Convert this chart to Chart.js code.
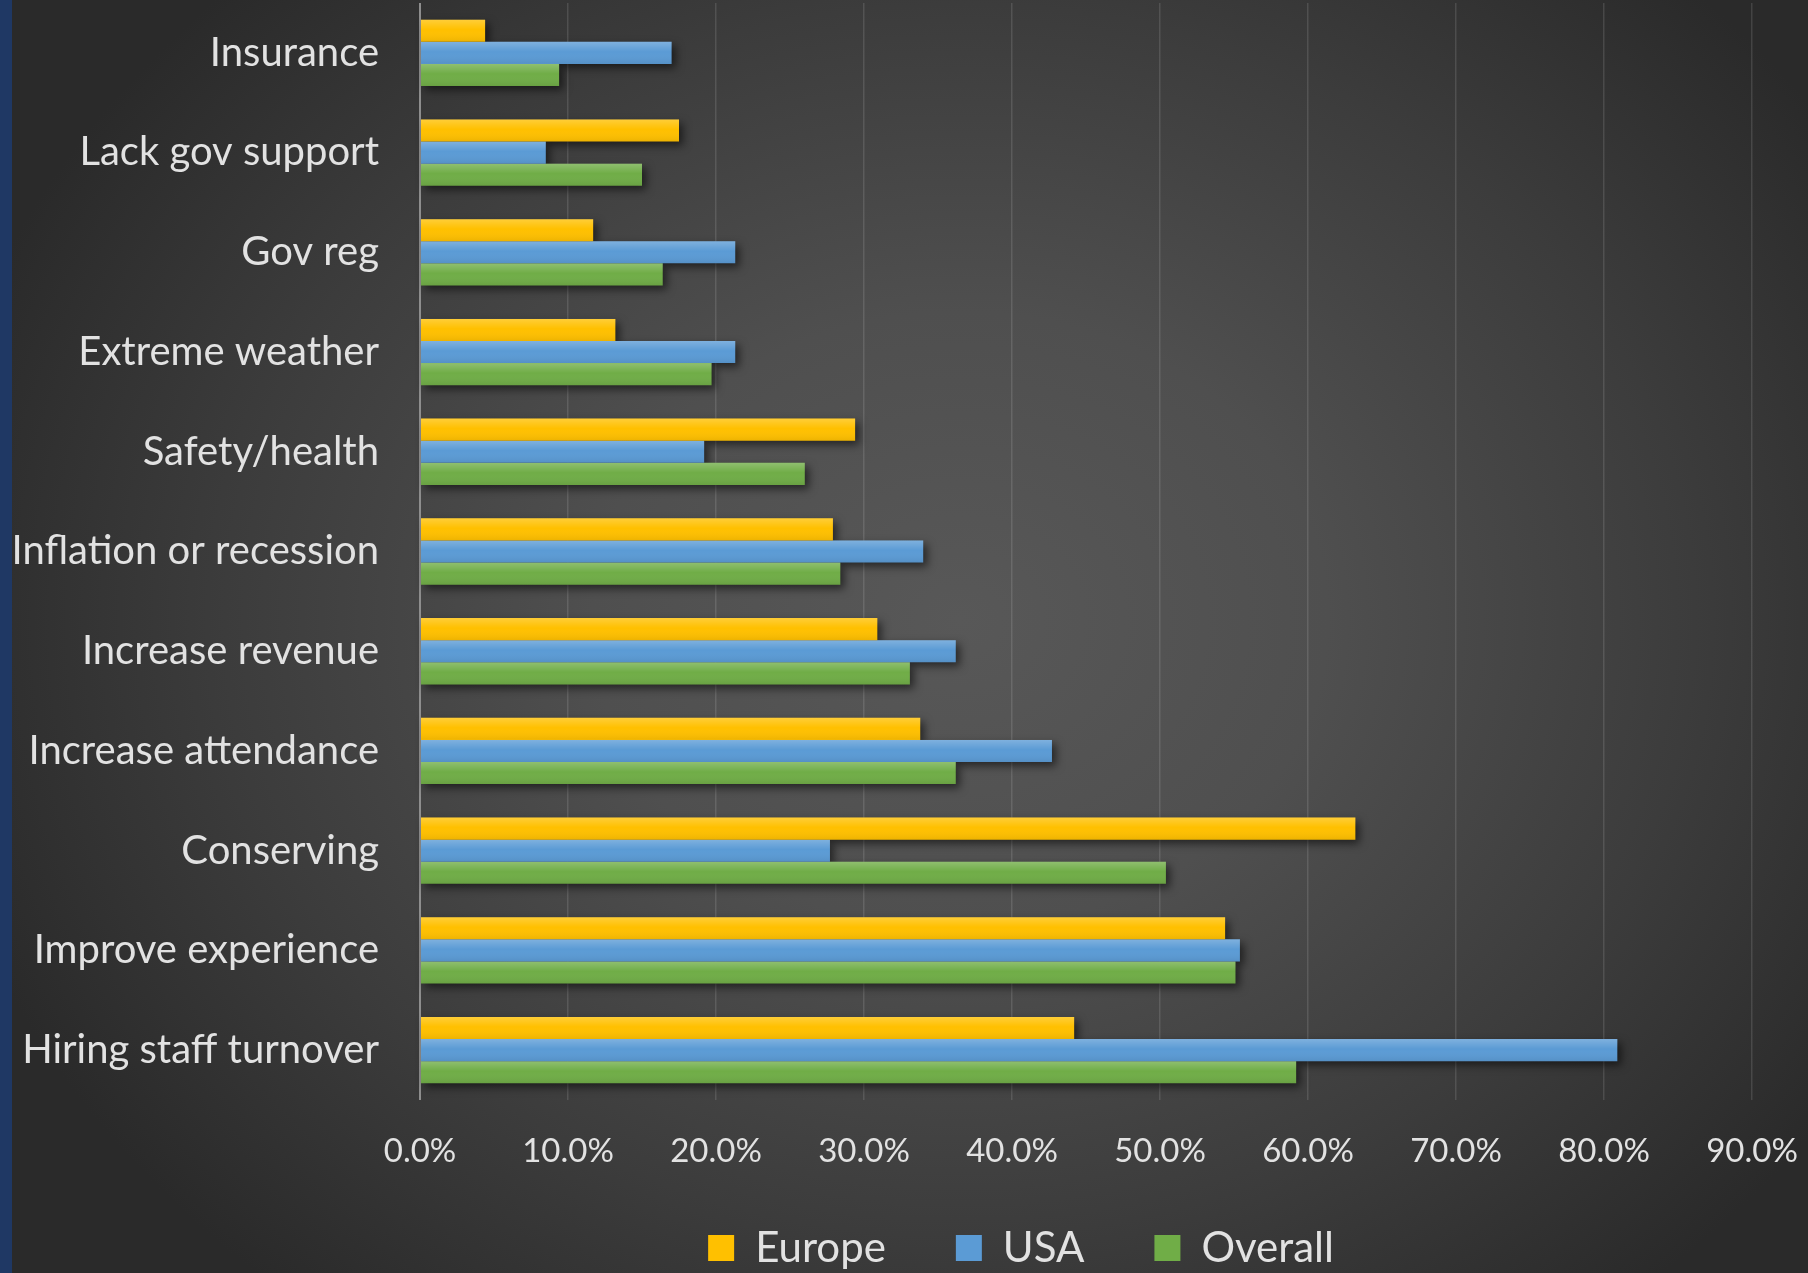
<!DOCTYPE html>
<html>
<head>
<meta charset="utf-8">
<script src="https://cdn.jsdelivr.net/npm/chart.js@4.4.0/dist/chart.umd.min.js"></script>
<style>
  html, body { margin: 0; padding: 0; width: 1808px; height: 1273px; overflow: hidden; }
  body {
    position: relative;
    background: radial-gradient(ellipse 1050px 880px at 960px 620px, #585858 0%, #4f4f4f 35%, #3c3c3c 70%, #2a2a2a 100%);
  }
  #strip { position: absolute; left: 0; top: 0; width: 12px; height: 1273px; background: #1f3864; }
  #c { position: absolute; left: 0; top: 0; }
</style>
</head>
<body>
<div id="strip"></div>
<canvas id="c" width="1808" height="1273"></canvas>
<script>
// survey answers, percent of respondents
const categories = ['Insurance', 'Lack gov support', 'Gov reg', 'Extreme weather', 'Safety/health',
  'Inflation or recession', 'Increase revenue', 'Increase attendance', 'Conserving',
  'Improve experience', 'Hiring staff turnover'];
const europe  = [4.4, 17.5, 11.7, 13.2, 29.4, 27.9, 30.9, 33.8, 63.2, 54.4, 44.2];
const usa     = [17.0, 8.5, 21.3, 21.3, 19.2, 34.0, 36.2, 42.7, 27.7, 55.4, 80.9];
const overall = [9.4, 15.0, 16.4, 19.7, 26.0, 28.4, 33.1, 36.2, 50.4, 55.1, 59.2];
const seriesNames = ['Europe', 'USA', 'Overall'];
const seriesColors = ['#FFC000', '#5B9BD5', '#70AD47'];

const textColor = '#e2e2e2';
Chart.defaults.font.family = 'Lato';

function eachBar(chart, fn) {
  chart.data.datasets.forEach((ds, i) => {
    const meta = chart.getDatasetMeta(i);
    if (meta.hidden) return;
    meta.data.forEach(el => {
      const left = Math.min(el.x, el.base);
      const w = Math.abs(el.x - el.base);
      const top = el.y - el.height / 2;
      fn(left, top, w, el.height);
    });
  });
}

// soft drop shadow under the bars (drawn off-screen, only the shadow lands)
const barShadow = {
  id: 'barShadow',
  beforeDatasetsDraw(chart) {
    const ctx = chart.ctx;
    const OFF = 5000;
    ctx.save();
    ctx.shadowColor = 'rgba(0,0,0,0.55)';
    ctx.shadowBlur = 9;
    ctx.shadowOffsetX = OFF + 4;
    ctx.shadowOffsetY = 4;
    ctx.fillStyle = '#000';
    eachBar(chart, (l, t, w, h) => ctx.fillRect(l - OFF, t, w, h));
    ctx.restore();
  }
};

// light-to-dark sheen on each bar
const barSheen = {
  id: 'barSheen',
  afterDatasetsDraw(chart) {
    const ctx = chart.ctx;
    ctx.save();
    eachBar(chart, (l, t, w, h) => {
      const g = ctx.createLinearGradient(0, t, 0, t + h);
      g.addColorStop(0, 'rgba(255,255,255,0.22)');
      g.addColorStop(0.45, 'rgba(255,255,255,0)');
      g.addColorStop(1, 'rgba(0,0,0,0.07)');
      ctx.fillStyle = g;
      ctx.fillRect(l, t, w, h);
    });
    ctx.restore();
  }
};

// legend sits a bit right of canvas centre and low in the original
const legendShift = {
  id: 'legendShift',
  afterLayout(chart) {
    const lg = chart.legend;
    const dx = 1021 - (lg.left + lg.right) / 2;
    lg.left += dx; lg.right += dx;
    lg.top = 1157;
    lg.bottom = 1290;
    lg.height = lg.bottom - lg.top;
  }
};

const data = {
  labels: categories,
  datasets: [europe, usa, overall].map((vals, i) => ({
    label: seriesNames[i],
    data: vals,
    backgroundColor: seriesColors[i],
    borderWidth: 0,
    barPercentage: 1,
    categoryPercentage: 0.665
  }))
};

new Chart(document.getElementById('c'), {
  type: 'bar',
  data,
  plugins: [barShadow, barSheen, legendShift],
  options: {
    indexAxis: 'y',
    responsive: false,
    animation: false,
    layout: { padding: { left: 0, right: 56, top: 3, bottom: 0 } },
    plugins: {
      tooltip: { enabled: false },
      legend: {
        position: 'bottom',
        maxHeight: 98,
        labels: {
          color: textColor,
          font: { size: 42 },
          boxWidth: 26,
          boxHeight: 26,
          padding: 70
        }
      }
    },
    scales: {
      x: {
        min: 0,
        max: 90,
        ticks: {
          stepSize: 10,
          color: textColor,
          font: { size: 33 },
          padding: 32,
          callback: v => v.toFixed(1) + '%'
        },
        grid: {
          drawTicks: false,
          color: c => (c.tick && c.tick.value === 0) ? '#8e8e8e' : 'rgba(255,255,255,0.12)',
          lineWidth: c => (c.tick && c.tick.value === 0) ? 2 : 1.5
        },
        border: { display: false },
        afterFit: s => { s.height = 75; s.paddingLeft = 0; s.paddingRight = 0; }
      },
      y: {
        ticks: { color: textColor, font: { size: 40 }, padding: 41 },
        grid: { display: false, drawTicks: false },
        border: { display: false },
        afterFit: s => { s.width = 420; s.paddingTop = 0; s.paddingBottom = 0; }
      }
    }
  }
});
</script>
</body>
</html>
